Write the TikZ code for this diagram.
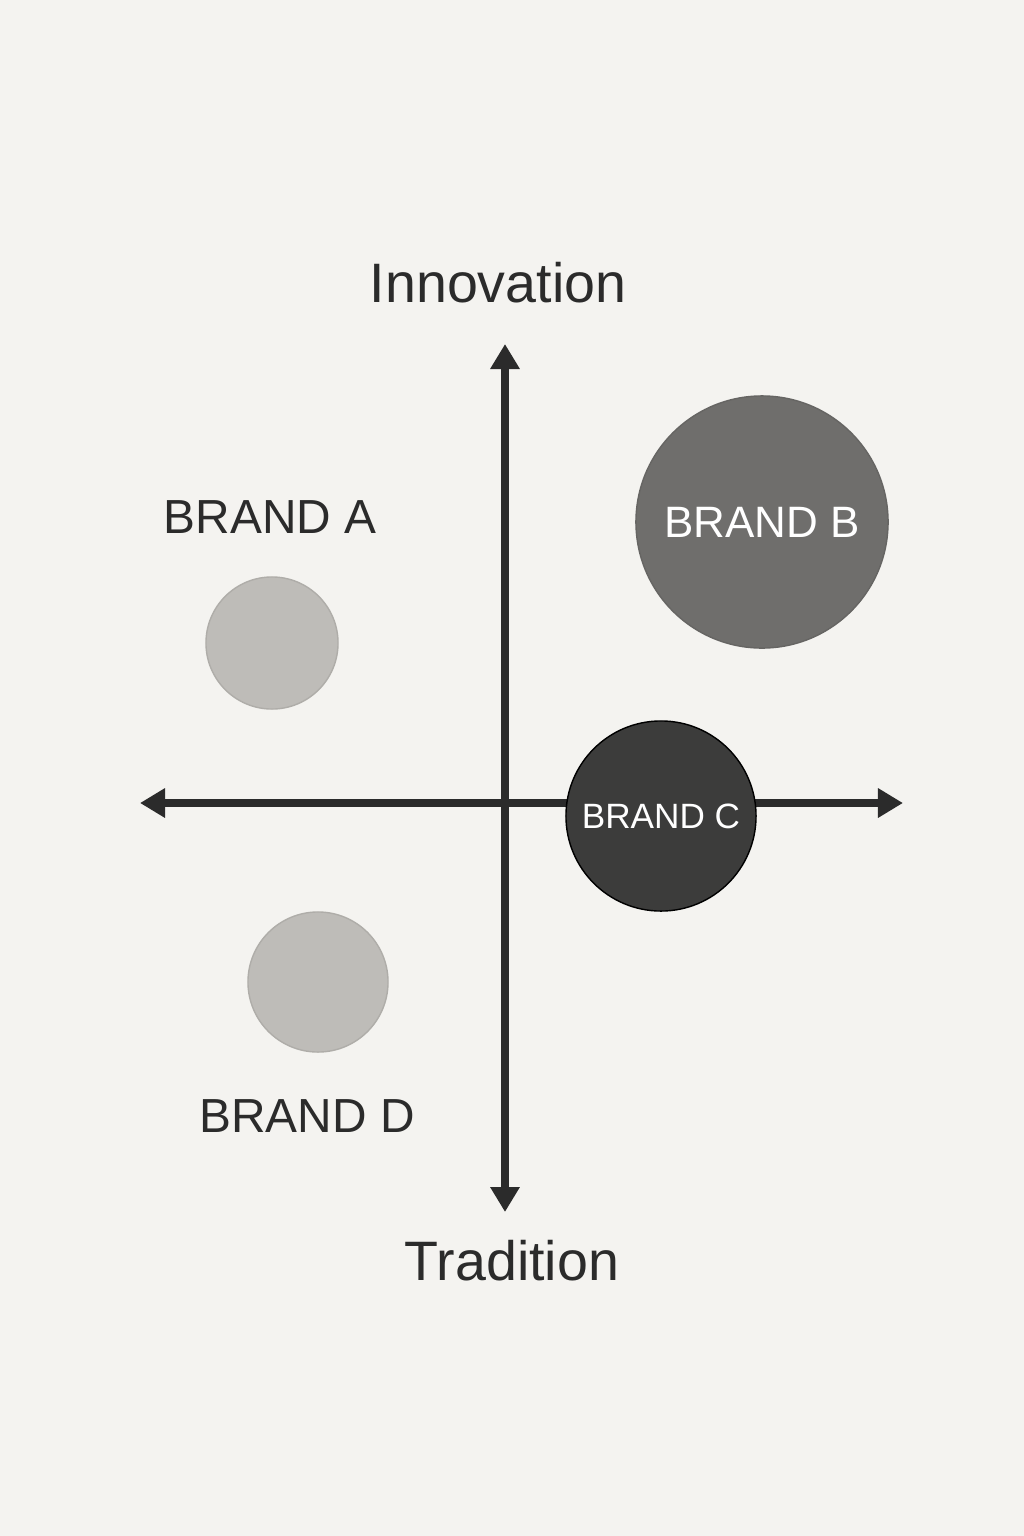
\documentclass[tikz,border=0pt]{standalone}
\usepackage{fontspec}
\setmainfont{Liberation Sans}
\usetikzlibrary{arrows.meta}
\definecolor{paper}{HTML}{F4F3F0}
\definecolor{ink}{HTML}{2B2B2B}
\definecolor{lightbrand}{HTML}{BEBCB8}
\definecolor{midbrand}{HTML}{6F6E6C}
\definecolor{darkbrand}{HTML}{3C3C3B}
\tikzset{
  axis/.style={line width=2pt, draw=ink, {Triangle[length=0.25cm,width=0.28cm]}-{Triangle[length=0.25cm,width=0.28cm]}},
  brand/.style={circle, inner sep=0pt, line width=0.4pt, font=\fontsize{#1}{#1}\selectfont, text=white},
  label/.style={anchor=base, text=ink, font=\fontsize{#1}{#1}\selectfont}
}
\begin{document}
\begin{tikzpicture}[x=0.01cm,y=-0.01cm]
\useasboundingbox (0,0) rectangle (1024,1536);
\fill [paper] (0,0) rectangle (1024,1536);
% axes
\coordinate (top) at (505,344);
\coordinate (bottom) at (505,1212);
\coordinate (left) at (140,803);
\coordinate (right) at (903,803);
\draw [axis] (bottom) -- (top);
\draw [axis] (left) -- (right);
% axis titles
\node [label=15.8pt] (innovation) at (498,302) {Innovation};
\node [label=15.8pt] (tradition) at (512,1280) {Tradition};
% brands
\node [brand=10pt, fill=lightbrand, draw=lightbrand!92!black, minimum size=1.32cm] (brandA) at (272,643) {};
\node [label=13.6pt] (labelA) at (270,533) {BRAND A};
\node [brand=12.5pt, fill=midbrand, draw=midbrand!92!black, minimum size=2.52cm] (brandB) at (762,522) {BRAND B};
\node [brand=10pt, fill=darkbrand, draw=black, minimum size=1.9cm] (brandC) at (661,816) {BRAND C};
\node [brand=10pt, fill=lightbrand, draw=lightbrand!92!black, minimum size=1.40cm] (brandD) at (318,982) {};
\node [label=13.6pt] (labelD) at (307,1132) {BRAND D};
\end{tikzpicture}
\end{document}
